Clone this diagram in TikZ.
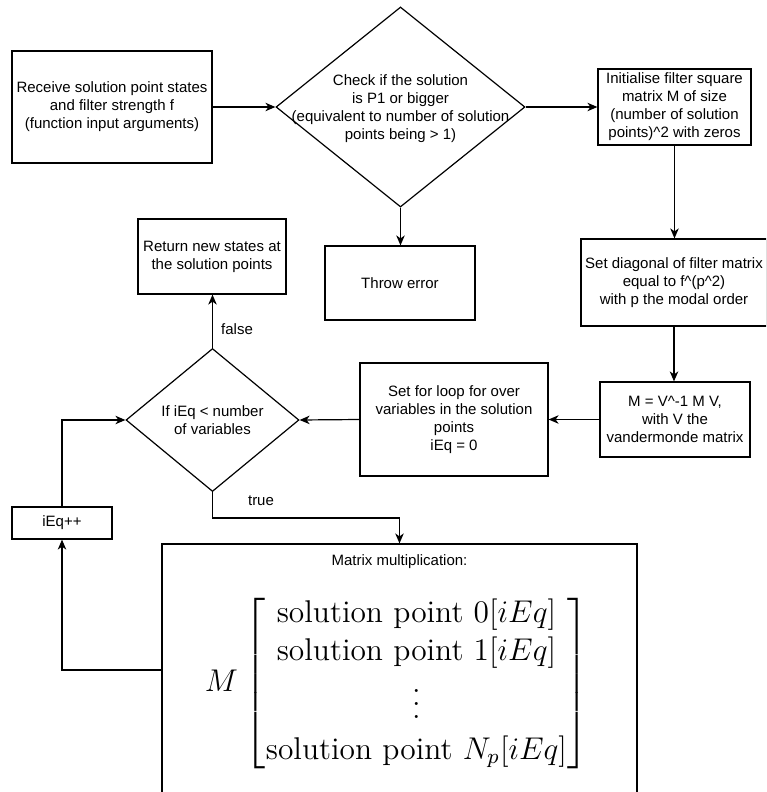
\documentclass[tikz,border=0pt]{standalone}
\usepackage{amsmath}
\usepackage[no-math]{fontspec}
\newfontfamily\labelfont{Liberation Sans}
\usetikzlibrary{shapes.geometric,arrows.meta}

% widely spaced vertical dots for the large matrix (set at 12pt, scaled up)
\newcommand\tallvdots{\vbox{\baselineskip=5pt\lineskiplimit=0pt\kern6.6pt\hbox{.}\hbox{.}\hbox{.}}}

\tikzset{
  box/.style={draw, rectangle, line width=1.2pt, align=center, inner sep=0pt,
    font=\labelfont\fontsize{15}{18}\selectfont},
  dmd/.style={draw, diamond, line width=1.2pt, inner sep=0pt},
  lbl/.style={inner sep=0pt, align=center, font=\labelfont\fontsize{15}{18}\selectfont},
  flow/.style={line width=1.2pt, -{Stealth[length=10pt,width=8.5pt,inset=3pt]}},
}

\begin{document}
\begin{tikzpicture}[x=1pt,y=-1pt]
\useasboundingbox (0,0) rectangle (766,792);
\fill[white] (0,0) rectangle (766,792);
\clip (0,0) rectangle (766,792);

% top row
\node[box, minimum width=200pt, minimum height=112pt] (recv) at (112,107)
  {Receive solution point states\\and filter strength f\\(function input arguments)};
\node[dmd, minimum width=249pt, minimum height=200pt] (chk) at (400.5,107) {};
\node[lbl] (chktxt) at (400.5,108.5)
  {Check if the solution\\is P1 or bigger\\(equivalent to number of solution\\points being > 1)};
\node[box, minimum width=153pt, minimum height=76pt] (init) at (674.5,107)
  {Initialise filter square\\matrix M of size\\(number of solution\\points)\textasciicircum 2 with zeros};

% second row
\node[box, minimum width=148pt, minimum height=75pt] (ret) at (212,256.5)
  {Return new states at\\the solution points};
\node[box, minimum width=150pt, minimum height=74pt] (throw) at (400,283) {Throw error};
\node[box, minimum width=186pt, minimum height=87pt] (diag) at (674,282.5)
  {Set diagonal of filter matrix\\equal to f\textasciicircum(p\textasciicircum 2)\\with p the modal order};

% loop row
\node[dmd, minimum width=173pt, minimum height=143pt] (cond) at (212.5,420) {};
\node[lbl] (condtxt) at (212.5,420) {If iEq < number\\of variables};
\node[box, minimum width=188pt, minimum height=113pt] (loop) at (454,419.5)
  {Set for loop for over\\variables in the solution\\points\\iEq = 0};
\node[box, minimum width=150pt, minimum height=75pt] (mbox) at (675,419.5)
  {M = V\textasciicircum-1 M V,\\with V the\\vandermonde matrix};

% loop body
\node[box, minimum width=100pt, minimum height=32pt] (inc) at (62,523) {iEq++};
\node[box, minimum width=475pt, minimum height=252pt] (mult) at (399.5,670) {};
\node[lbl] (multtitle) at (399.5,562) {Matrix multiplication:};
\node[inner sep=0pt, scale=2.62, transform shape, anchor=east,
      font=\fontsize{12}{14.4}\selectfont] (mat) at (588.5,683.5)
  {$M\mskip1mu\begin{bmatrix}
     \text{solution point }0[iEq]\\
     \text{solution point }1[iEq]\\
     \tallvdots\\[1.2pt]
     \text{solution point }N_p[iEq]
   \end{bmatrix}$};

% connectors
\coordinate (tbend) at (212.5,518);
\draw[flow] (recv.east) -- (chk.west);
\draw[flow] (chk.east) -- (init.west);
\draw[flow] (chk.south) -- (chk.south |- throw.north);
\draw[flow] (init.south) -- (init.south |- diag.north);
\draw[flow] (diag.south) -- (diag.south |- mbox.north);
\draw[flow] (mbox.west) -- (loop.east);
\draw[flow] (loop.west) -- (cond.east);
\draw[flow] (cond.north) -- (cond.north |- ret.south);
\draw[flow] (cond.south) -- (tbend) -| (mult.north);
\draw[flow] (mult.west) -| (inc.south);
\draw[flow] (inc.north) |- (cond.west);

% branch labels
\node[lbl, anchor=west] (flabel) at (221,329) {false};
\node[lbl] (tlabel) at (261,501) {true};
\end{tikzpicture}
\end{document}
